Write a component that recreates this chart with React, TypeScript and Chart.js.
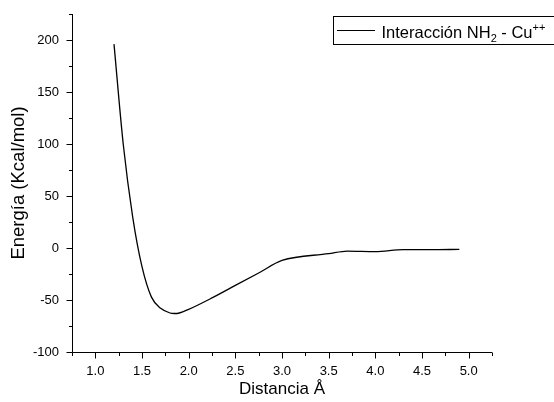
import React, { useEffect, useRef } from "react";
import { Chart, registerables } from "chart.js";

Chart.register(...registerables);

const DIST = [1.2, 1.3, 1.4, 1.5, 1.6, 1.7, 1.8, 1.85, 1.9, 2.0, 2.25, 2.5, 2.75, 3.0, 3.5, 3.7, 4.0, 4.3, 4.6, 4.9];
const ENERGY = [196, 99, 30, -18, -47, -58, -62.5, -63, -62.5, -59, -48, -36, -24, -12, -5.5, -3, -3.5, -1.6, -1.6, -1.3];

const X_TICKS = [1.0, 1.5, 2.0, 2.5, 3.0, 3.5, 4.0, 4.5, 5.0];
const Y_TICKS = [-100, -50, 0, 50, 100, 150, 200];
const X_MIN = 0.75, X_MAX = 5.25;
const Y_MIN = -100, Y_MAX = 225;

const SERIES_LABEL = "Interacción NH";
const X_TITLE = "Distancia Å";
const Y_TITLE = "Energía (Kcal/mol)";

const FONT = "'Liberation Sans', Arial, sans-serif";

const decorPlugin = {
  id: "decor",
  afterDraw(chart: any) {
    const { ctx, chartArea, scales } = chart;
    const { left, right, top, bottom } = chartArea;
    const xs = scales.x, ys = scales.y;
    ctx.save();
    ctx.strokeStyle = "#000";
    ctx.lineWidth = 1;
    const L = Math.round(left) + 0.5;
    const B = Math.round(bottom) + 0.5;
    ctx.beginPath();
    ctx.moveTo(L, top);
    ctx.lineTo(L, B);
    ctx.lineTo(right, B);
    ctx.stroke();
    // x ticks
    ctx.beginPath();
    for (let i = 0; i < X_TICKS.length; i++) {
      const px = Math.round(xs.getPixelForValue(X_TICKS[i])) + 0.5;
      ctx.moveTo(px, B);
      ctx.lineTo(px, B + 6);
    }
    const xMinor = [X_TICKS[0] - 0.25, ...X_TICKS.map((v) => v + 0.25)];
    for (const v of xMinor) {
      const px = Math.round(xs.getPixelForValue(v)) + 0.5;
      ctx.moveTo(px, B);
      ctx.lineTo(px, B + 3.5);
    }
    // y ticks
    for (const v of Y_TICKS) {
      const py = Math.round(ys.getPixelForValue(v)) + 0.5;
      ctx.moveTo(L, py);
      ctx.lineTo(L - 6, py);
    }
    for (const v of Y_TICKS) {
      const py = Math.round(ys.getPixelForValue(v + 25)) + 0.5;
      ctx.moveTo(L, py);
      ctx.lineTo(L - 3.5, py);
    }
    ctx.stroke();

    // legend
    const bx = 333.5, by = 16.5, bw = 230, bh = 28;
    ctx.strokeRect(bx, by, bw, bh);
    ctx.lineWidth = 1.2;
    ctx.beginPath();
    ctx.moveTo(337, 30.5);
    ctx.lineTo(375, 30.5);
    ctx.stroke();
    ctx.fillStyle = "#000";
    ctx.textBaseline = "alphabetic";
    ctx.textAlign = "left";
    let tx = 381.5;
    const base = 37.5;
    ctx.font = `16.5px ${FONT}`;
    ctx.fillText(SERIES_LABEL, tx, base);
    tx += ctx.measureText(SERIES_LABEL).width;
    ctx.font = `11px ${FONT}`;
    ctx.fillText("2", tx, base + 4);
    tx += ctx.measureText("2").width;
    ctx.font = `16.5px ${FONT}`;
    ctx.fillText(" - Cu", tx, base);
    tx += ctx.measureText(" - Cu").width;
    ctx.font = `11px ${FONT}`;
    ctx.fillText("++", tx, base - 7);
    ctx.restore();
  },
};

export default function App() {
  const ref = useRef<HTMLCanvasElement | null>(null);
  useEffect(() => {
    if (!ref.current) return;
    const data = DIST.map((d, i) => ({ x: d, y: ENERGY[i] }));
    const chart = new Chart(ref.current, {
      type: "line",
      data: {
        datasets: [
          {
            label: SERIES_LABEL,
            data,
            borderColor: "#000",
            borderWidth: 1.3,
            pointRadius: 0,
            cubicInterpolationMode: "monotone",
            fill: false,
          },
        ],
      },
      options: {
        animation: false,
        responsive: false,
        maintainAspectRatio: false,
        layout: { padding: { top: 14, right: 62, left: 0, bottom: 0 } },
        plugins: { legend: { display: false }, tooltip: { enabled: false } },
        scales: {
          x: {
            type: "linear",
            min: X_MIN,
            max: X_MAX,
            afterBuildTicks: (s: any) => {
              s.ticks = X_TICKS.map((v) => ({ value: v }));
            },
            afterFit: (s: any) => {
              s.height = 50;
              s.paddingLeft = 0;
              s.paddingRight = 0;
            },
            grid: { display: false, drawTicks: false },
            border: { display: false },
            ticks: {
              color: "#000",
              padding: 12,
              maxRotation: 0,
              font: { family: FONT, size: 13 },
              callback: (v: any) => Number(v).toFixed(1),
            },
            title: {
              display: true,
              text: X_TITLE,
              color: "#000",
              font: { family: FONT, size: 17 },
              padding: { top: 0, bottom: 2 },
            },
          },
          y: {
            type: "linear",
            min: Y_MIN,
            max: Y_MAX,
            afterBuildTicks: (s: any) => {
              s.ticks = Y_TICKS.map((v) => ({ value: v }));
            },
            afterFit: (s: any) => {
              s.width = 72;
              s.paddingTop = 0;
              s.paddingBottom = 0;
            },
            grid: { display: false, drawTicks: false },
            border: { display: false },
            ticks: {
              color: "#000",
              padding: 13,
              font: { family: FONT, size: 13 },
              callback: (v: any) => String(v),
            },
            title: {
              display: true,
              text: Y_TITLE,
              color: "#000",
              font: { family: FONT, size: 18.5 },
              padding: { top: 8, bottom: 0 },
            },
          },
        },
      },
      plugins: [decorPlugin],
    });
    return () => chart.destroy();
  }, []);
  return (
    <div style={{ position: "fixed", left: 0, top: 0, width: 554, height: 402, background: "#fff" }}>
      <canvas ref={ref} width={554} height={402} style={{ width: 554, height: 402, display: "block" }} />
    </div>
  );
}
